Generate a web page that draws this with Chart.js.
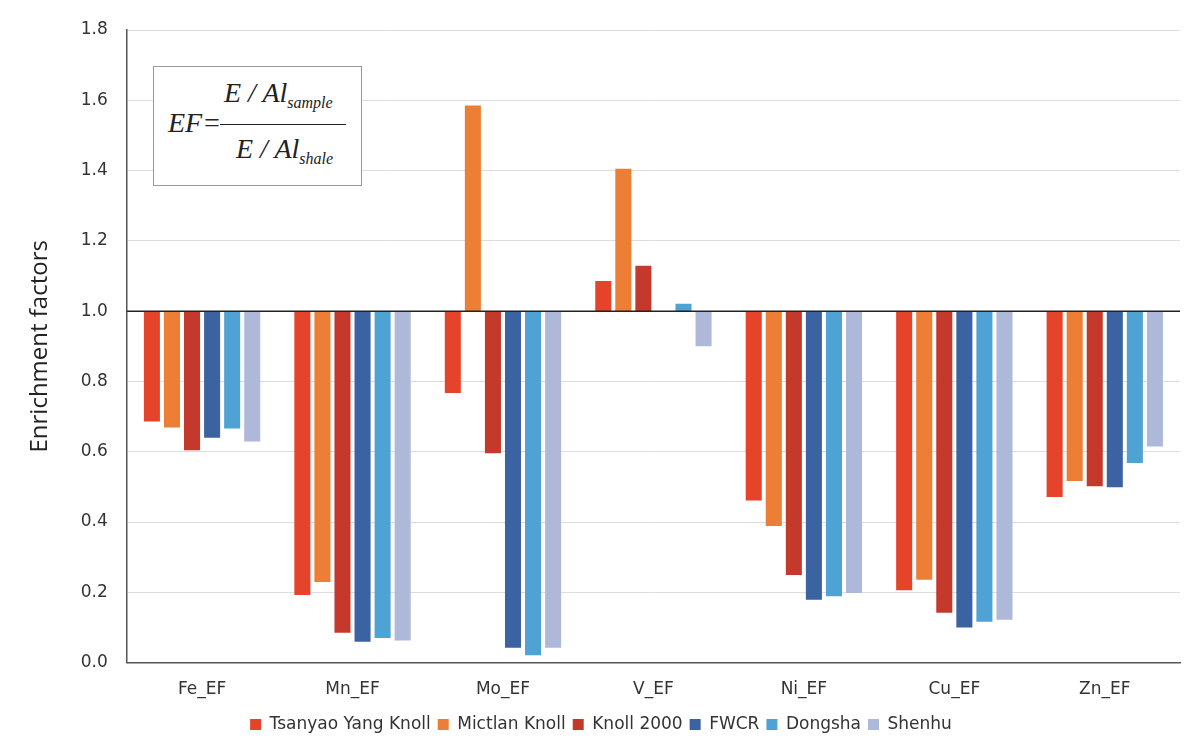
<!DOCTYPE html>
<html>
<head>
<meta charset="utf-8">
<script src="https://cdn.jsdelivr.net/npm/chart.js@4.4.0/dist/chart.umd.min.js"></script>
<style>
    html, body { margin: 0; padding: 0; background: #fff; }
    #wrap { position: relative; width: 1200px; height: 743px; }
    #formula {
        position: absolute; left: 153px; top: 66px; width: 209px; height: 120px;
        border: 1px solid #999; background: #fff;
        font-family: "Liberation Serif", "Times New Roman", serif; font-style: italic;
        font-size: 28px; color: #222; box-sizing: border-box;
    }
    #formula .ef { position: absolute; left: 14px; top: 40px; }
    #formula .num { position: absolute; left: 70px; top: 10px; white-space: nowrap; }
    #formula .den { position: absolute; left: 82px; top: 66px; white-space: nowrap; }
    #formula .bar { position: absolute; left: 66px; top: 57px; width: 126px; border-top: 1.5px solid #222; }
    #formula sub { font-size: 16px; vertical-align: -6px; }
</style>
</head>
<body>
<div id="wrap">
    <canvas id="myChart" width="1200" height="743"></canvas>
    <div id="formula">
        <span class="ef">EF=</span>
        <span class="num">E / Al<sub>sample</sub></span>
        <span class="bar"></span>
        <span class="den">E / Al<sub>shale</sub></span>
    </div>
</div>
<script>
const categories = ['Fe_EF', 'Mn_EF', 'Mo_EF', 'V_EF', 'Ni_EF', 'Cu_EF', 'Zn_EF'];
const seriesNames = ['Tsanyao Yang Knoll', 'Mictlan Knoll', 'Knoll 2000', 'FWCR', 'Dongsha', 'Shenhu'];
const seriesColors = ['#E5432A', '#EC7E35', '#C4392B', '#3B63A1', '#4FA3D4', '#AEB9DA'];

// valores de EF (a barra vai de 1.0 até o valor)
const tsanyaoValues = [0.686, 0.192, 0.767, 1.086, 0.461, 0.206, 0.471];
const mictlanValues = [0.669, 0.229, 1.585, 1.405, 0.389, 0.236, 0.517];
const knoll2000Values = [0.604, 0.085, 0.596, 1.129, 0.249, 0.142, 0.502];
const fwcrValues = [0.640, 0.059, 0.042, null, 0.179, 0.100, 0.499];
const dongshaValues = [0.666, 0.070, 0.021, 1.021, 0.189, 0.116, 0.568];
const shenhuValues = [0.629, 0.063, 0.042, 0.900, 0.198, 0.122, 0.615];

const yTicks = [0, 0.2, 0.4, 0.6, 0.8, 1.0, 1.2, 1.4, 1.6, 1.8];
const baseline = 1.0;

const allValues = [tsanyaoValues, mictlanValues, knoll2000Values, fwcrValues, dongshaValues, shenhuValues];

const datasets = allValues.map((values, i) => ({
    label: seriesNames[i],
    data: values.map(v => v === null ? null : [baseline, v]),
    backgroundColor: seriesColors[i],
    borderWidth: 0,
    categoryPercentage: 0.8,
    barPercentage: 0.8
}));

// linha preta no 1.0
const baselinePlugin = {
    id: 'baselineLine',
    afterDatasetsDraw(chart) {
        const { ctx, chartArea, scales } = chart;
        const y = scales.y.getPixelForValue(baseline);
        ctx.save();
        ctx.strokeStyle = '#222';
        ctx.lineWidth = 1.5;
        ctx.beginPath();
        ctx.moveTo(chartArea.left, y);
        ctx.lineTo(chartArea.right, y);
        ctx.stroke();
        ctx.restore();
    }
};

new Chart(document.getElementById('myChart').getContext('2d'), {
    type: 'bar',
    data: { labels: categories, datasets: datasets },
    options: {
        responsive: false,
        animation: false,
        layout: { padding: { top: 30, right: 20, left: 22, bottom: 0 } },
        scales: {
            x: {
                grid: { display: false },
                border: { color: '#555', width: 1.5 },
                ticks: {
                    color: '#333',
                    padding: 9,
                    font: { family: 'DejaVu Sans', size: 17 }
                }
            },
            y: {
                min: 0,
                max: 1.8,
                afterBuildTicks: axis => { axis.ticks = yTicks.map(v => ({ value: v })); },
                ticks: {
                    color: '#333',
                    padding: 19,
                    font: { family: 'DejaVu Sans', size: 17 },
                    callback: value => value.toFixed(1)
                },
                grid: { color: '#dddddd', drawTicks: false },
                border: { color: '#555', width: 1.5 },
                title: {
                    display: true,
                    text: 'Enrichment factors',
                    color: '#222',
                    padding: { bottom: 7 },
                    font: { family: 'Open Sans', size: 24 }
                }
            }
        },
        plugins: {
            legend: {
                position: 'bottom',
                labels: {
                    boxWidth: 11,
                    boxHeight: 11,
                    padding: 7,
                    color: '#333',
                    font: { family: 'DejaVu Sans', size: 17 }
                }
            },
            tooltip: { enabled: false }
        }
    },
    plugins: [baselinePlugin]
});
</script>
</body>
</html>
